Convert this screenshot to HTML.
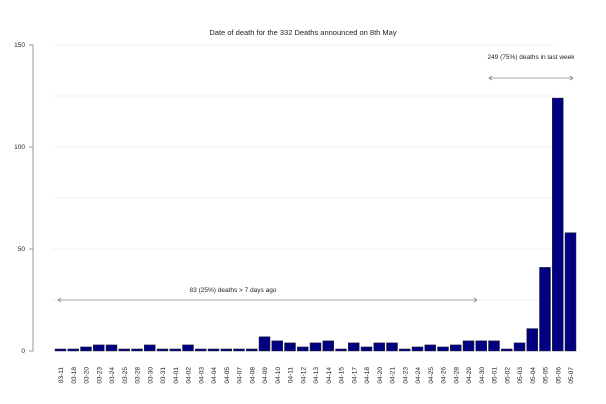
<!DOCTYPE html>
<html><head><meta charset="utf-8"><style>
html,body{margin:0;padding:0;background:#fff;width:606px;height:404px;overflow:hidden}
text{font-family:"Liberation Sans",sans-serif;fill:#222}
</style></head><body>
<svg width="606" height="404" viewBox="0 0 606 404" xmlns="http://www.w3.org/2000/svg">
<text x="303" y="35" font-size="7.5" text-anchor="middle">Date of death for the 332 Deaths announced on 8th May</text>
<g stroke="#f0f0f0" stroke-width="1">
<line x1="52" y1="45" x2="555" y2="45"/><line x1="52" y1="96" x2="555" y2="96"/>
<line x1="52" y1="147" x2="555" y2="147"/><line x1="52" y1="198" x2="555" y2="198"/>
<line x1="52" y1="249" x2="555" y2="249"/><line x1="52" y1="300" x2="555" y2="300"/>
</g>
<g stroke="#999" stroke-width="1">
<line x1="33" y1="45" x2="33" y2="351"/>
<line x1="29" y1="45" x2="33" y2="45"/><line x1="29" y1="147" x2="33" y2="147"/>
<line x1="29" y1="249" x2="33" y2="249"/><line x1="29" y1="351" x2="33" y2="351"/>
</g>
<g font-size="6.5" text-anchor="end">
<text x="25" y="47">150</text><text x="25" y="149">100</text><text x="25" y="251">50</text><text x="25" y="353">0</text>
</g>
<g stroke="#888" stroke-width="0.8" fill="none">
<line x1="58" y1="300" x2="477" y2="300"/>
<polyline points="61,298 58,300 61,302"/><polyline points="474,298 477,300 474,302"/>
<line x1="489" y1="78" x2="573" y2="78"/>
<polyline points="492,76 489,78 492,80"/><polyline points="570,76 573,78 570,80"/>
</g>
<text x="233" y="292" font-size="6.5" text-anchor="middle">83 (25%) deaths &gt; 7 days ago</text>
<text x="531" y="59" font-size="6.5" text-anchor="middle">249 (75%)  deaths in last week</text>
<g fill="#000080" stroke="#333" stroke-width="0.5">
<rect x="55" y="348.96" width="11" height="2.04"/>
<rect x="67.75" y="348.96" width="11" height="2.04"/>
<rect x="80.5" y="346.92" width="11" height="4.08"/>
<rect x="93.25" y="344.88" width="11" height="6.12"/>
<rect x="106" y="344.88" width="11" height="6.12"/>
<rect x="118.75" y="348.96" width="11" height="2.04"/>
<rect x="131.5" y="348.96" width="11" height="2.04"/>
<rect x="144.25" y="344.88" width="11" height="6.12"/>
<rect x="157" y="348.96" width="11" height="2.04"/>
<rect x="169.75" y="348.96" width="11" height="2.04"/>
<rect x="182.5" y="344.88" width="11" height="6.12"/>
<rect x="195.25" y="348.96" width="11" height="2.04"/>
<rect x="208" y="348.96" width="11" height="2.04"/>
<rect x="220.75" y="348.96" width="11" height="2.04"/>
<rect x="233.5" y="348.96" width="11" height="2.04"/>
<rect x="246.25" y="348.96" width="11" height="2.04"/>
<rect x="259" y="336.72" width="11" height="14.28"/>
<rect x="271.75" y="340.8" width="11" height="10.2"/>
<rect x="284.5" y="342.84" width="11" height="8.16"/>
<rect x="297.25" y="346.92" width="11" height="4.08"/>
<rect x="310" y="342.84" width="11" height="8.16"/>
<rect x="322.75" y="340.8" width="11" height="10.2"/>
<rect x="335.5" y="348.96" width="11" height="2.04"/>
<rect x="348.25" y="342.84" width="11" height="8.16"/>
<rect x="361" y="346.92" width="11" height="4.08"/>
<rect x="373.75" y="342.84" width="11" height="8.16"/>
<rect x="386.5" y="342.84" width="11" height="8.16"/>
<rect x="399.25" y="348.96" width="11" height="2.04"/>
<rect x="412" y="346.92" width="11" height="4.08"/>
<rect x="424.75" y="344.88" width="11" height="6.12"/>
<rect x="437.5" y="346.92" width="11" height="4.08"/>
<rect x="450.25" y="344.88" width="11" height="6.12"/>
<rect x="463" y="340.8" width="11" height="10.2"/>
<rect x="475.75" y="340.8" width="11" height="10.2"/>
<rect x="488.5" y="340.8" width="11" height="10.2"/>
<rect x="501.25" y="348.96" width="11" height="2.04"/>
<rect x="514" y="342.84" width="11" height="8.16"/>
<rect x="526.75" y="328.56" width="11" height="22.44"/>
<rect x="539.5" y="267.36" width="11" height="83.64"/>
<rect x="552.25" y="98.04" width="11" height="252.96"/>
<rect x="565" y="232.68" width="11" height="118.32"/>
</g>
<g font-size="6.5" text-anchor="end">
<text transform="translate(63,367) rotate(-90)">03-11</text>
<text transform="translate(75.75,367) rotate(-90)">03-18</text>
<text transform="translate(88.5,367) rotate(-90)">03-20</text>
<text transform="translate(101.25,367) rotate(-90)">03-23</text>
<text transform="translate(114,367) rotate(-90)">03-24</text>
<text transform="translate(126.75,367) rotate(-90)">03-25</text>
<text transform="translate(139.5,367) rotate(-90)">03-28</text>
<text transform="translate(152.25,367) rotate(-90)">03-30</text>
<text transform="translate(165,367) rotate(-90)">03-31</text>
<text transform="translate(177.75,367) rotate(-90)">04-01</text>
<text transform="translate(190.5,367) rotate(-90)">04-02</text>
<text transform="translate(203.25,367) rotate(-90)">04-03</text>
<text transform="translate(216,367) rotate(-90)">04-04</text>
<text transform="translate(228.75,367) rotate(-90)">04-05</text>
<text transform="translate(241.5,367) rotate(-90)">04-07</text>
<text transform="translate(254.25,367) rotate(-90)">04-08</text>
<text transform="translate(267,367) rotate(-90)">04-09</text>
<text transform="translate(279.75,367) rotate(-90)">04-10</text>
<text transform="translate(292.5,367) rotate(-90)">04-11</text>
<text transform="translate(305.25,367) rotate(-90)">04-12</text>
<text transform="translate(318,367) rotate(-90)">04-13</text>
<text transform="translate(330.75,367) rotate(-90)">04-14</text>
<text transform="translate(343.5,367) rotate(-90)">04-15</text>
<text transform="translate(356.25,367) rotate(-90)">04-17</text>
<text transform="translate(369,367) rotate(-90)">04-18</text>
<text transform="translate(381.75,367) rotate(-90)">04-20</text>
<text transform="translate(394.5,367) rotate(-90)">04-21</text>
<text transform="translate(407.25,367) rotate(-90)">04-23</text>
<text transform="translate(420,367) rotate(-90)">04-24</text>
<text transform="translate(432.75,367) rotate(-90)">04-25</text>
<text transform="translate(445.5,367) rotate(-90)">04-26</text>
<text transform="translate(458.25,367) rotate(-90)">04-28</text>
<text transform="translate(471,367) rotate(-90)">04-29</text>
<text transform="translate(483.75,367) rotate(-90)">04-30</text>
<text transform="translate(496.5,367) rotate(-90)">05-01</text>
<text transform="translate(509.25,367) rotate(-90)">05-02</text>
<text transform="translate(522,367) rotate(-90)">05-03</text>
<text transform="translate(534.75,367) rotate(-90)">05-04</text>
<text transform="translate(547.5,367) rotate(-90)">05-05</text>
<text transform="translate(560.25,367) rotate(-90)">05-06</text>
<text transform="translate(573,367) rotate(-90)">05-07</text>
</g>
</svg>
</body></html>
